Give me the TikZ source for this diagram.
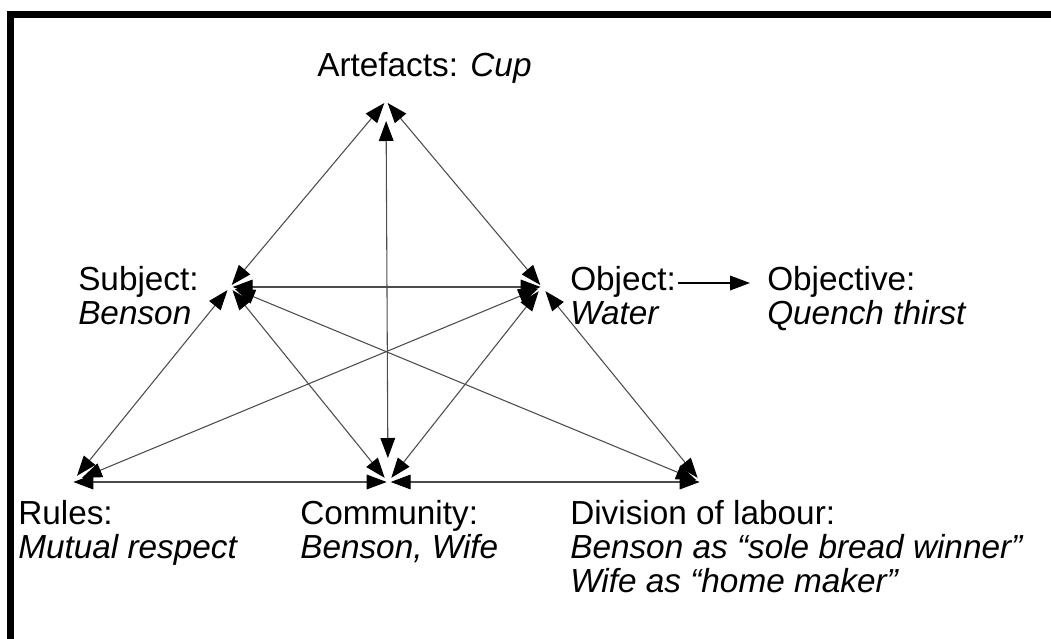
\documentclass[tikz,border=0pt]{standalone}
\usepackage{fontspec}
\setmainfont{Liberation Sans}
\usetikzlibrary{arrows.meta}
\begin{document}
\begin{tikzpicture}[x=0.75pt,y=-0.75pt,
  label/.style={anchor=base west,inner sep=0pt,align=left,
    font=\fontsize{25}{25.5}\selectfont},
  tip/.style={Triangle[length=15pt,width=11pt,color=black]},
  link/.style={{Triangle[length=15pt,width=11pt,color=black]}-{Triangle[length=15pt,width=11pt,color=black]},
    line width=0.8pt,draw=black!70},
  goal/.style={-{Triangle[length=15pt,width=11pt]},line width=1pt}]
\useasboundingbox (0,0) rectangle (1051,639);
% frame along the top and left edges
\fill (7,11) rectangle (1051,18);
\fill (7,11) rectangle (14,639);

% corners of the activity system
\coordinate (A) at (386,101);
\coordinate (S) at (230,287);
\coordinate (O) at (542,287);
\coordinate (R) at (72,482);
\coordinate (C) at (388,482);
\coordinate (D) at (701,482);

% labels (anchored on the baseline of their last line)
\node[label] (art) at (317,76) {Artefacts: \textit{Cup}};
\node[label] (sub) at (78,324) {Subject:\\\textit{Benson}};
\node[label] (obj) at (570,324) {Object:\\\textit{Water}};
\node[label] (goaltext) at (767,324) {Objective:\\\textit{Quench thirst}};
\node[label] (rul) at (18,558) {Rules:\\\textit{Mutual respect}};
\node[label] (com) at (300,558) {Community:\\\textit{Benson, Wife}};
\node[label] (div) at (570,592) {Division of labour:\\\textit{Benson as “sole bread winner”}\\\textit{Wife as “home maker”}};

% relations
\draw[link,shorten <=2pt,shorten >=2pt] (A) -- (S);
\draw[link,shorten <=2pt,shorten >=2pt] (A) -- (O);
\draw[link,shorten <=15pt,shorten >=18pt] (A) -- (C);
\draw[link,shorten <=2pt,shorten >=1pt] (S) -- (O);
\draw[link,shorten <=3pt,shorten >=6pt] (S) -- (R);
\draw[link,shorten <=3pt,shorten >=4pt] (S) -- (C);
\draw[link,shorten <=4pt,shorten >=4pt] (S) -- (D);
\draw[link,shorten <=3pt,shorten >=8pt] (O) -- (R);
\draw[link,shorten <=4pt,shorten >=4pt] (O) -- (C);
\draw[link,shorten <=4pt,shorten >=4pt] (O) -- (D);
\draw[link,shorten <=1pt,shorten >=1pt] (R) -- (C);
\draw[link,shorten <=2pt,shorten >=1pt] (C) -- (D);

% object leads to the objective
\coordinate (g0) at (678,283);
\coordinate (g1) at (750,283);
\draw[goal] (g0) -- (g1);
\end{tikzpicture}
\end{document}
